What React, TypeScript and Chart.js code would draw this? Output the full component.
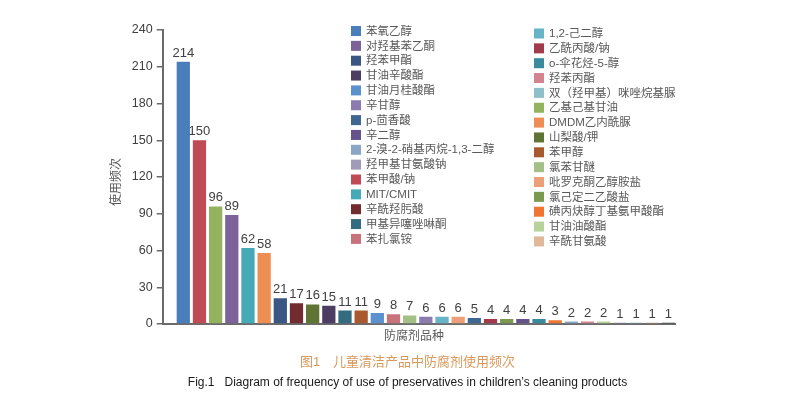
import React, { useEffect, useRef } from "react";
import { Chart, registerables } from "chart.js";

Chart.register(...registerables);

const categories = [
  "苯氧乙醇", "苯甲酸/钠", "乙基己基甘油", "对羟基苯乙酮", "MIT/CMIT", "DMDM乙内酰脲",
  "羟苯甲酯", "辛酰羟肟酸", "山梨酸/钾", "甘油辛酸酯", "甲基异噻唑啉酮", "苯甲醇",
  "甘油月桂酸酯", "苯扎氯铵", "氯苯甘醚", "辛甘醇", "1,2-己二醇", "吡罗克酮乙醇胺盐",
  "p-茴香酸", "乙酰丙酸/钠", "氯己定二乙酸盐", "辛二醇", "o-伞花烃-5-醇", "碘丙炔醇丁基氨甲酸酯",
  "2-溴-2-硝基丙烷-1,3-二醇", "羟苯丙酯", "甘油油酸酯", "羟甲基甘氨酸钠", "双（羟甲基）咪唑烷基脲",
  "辛酰甘氨酸", "其他",
];

const values = [214, 150, 96, 89, 62, 58, 21, 17, 16, 15, 11, 11, 9, 8, 7, 6, 6, 6, 5, 4, 4, 4, 4, 3, 2, 2, 2, 1, 1, 1, 1];

const barColors = [
  "#4A7EBB", "#BE4B55", "#94B35E", "#7D6199", "#46A9B8", "#EE8E55",
  "#3B5683", "#722B2E", "#5F7434", "#4E3D63", "#336C7E", "#A85A2E",
  "#5B92CE", "#C8727B", "#A3C087", "#8C7BAF", "#66B4C6", "#EBA07A",
  "#3E6892", "#A13A4A", "#7B9A50", "#66528A", "#3A8A9E", "#F07434",
  "#8CA7C6", "#D4848E", "#B8D39A", "#8E8AA6", "#7FA6B0", "#B89A86", "#2F3446",
];

const legendLeft = [
  "苯氧乙醇", "对羟基苯乙酮", "羟苯甲酯", "甘油辛酸酯", "甘油月桂酸酯", "辛甘醇", "p-茴香酸",
  "辛二醇", "2-溴-2-硝基丙烷-1,3-二醇", "羟甲基甘氨酸钠", "苯甲酸/钠", "MIT/CMIT",
  "辛酰羟肟酸", "甲基异噻唑啉酮", "苯扎氯铵",
];

const legendRight = [
  "1,2-己二醇", "乙酰丙酸/钠", "o-伞花烃-5-醇", "羟苯丙酯", "双（羟甲基）咪唑烷基脲",
  "乙基己基甘油", "DMDM乙内酰脲", "山梨酸/钾", "苯甲醇", "氯苯甘醚", "吡罗克酮乙醇胺盐",
  "氯己定二乙酸盐", "碘丙炔醇丁基氨甲酸酯", "甘油油酸酯", "辛酰甘氨酸",
];

const legendColors: Record<string, string> = {
  "羟甲基甘氨酸钠": "#A09CB8",
  "双（羟甲基）咪唑烷基脲": "#8FBFCB",
  "辛酰甘氨酸": "#E2B89B",
};

const yTicks = [0, 30, 60, 90, 120, 150, 180, 210, 240];

const xTitle = "防腐剂品种";
const yTitle = "使用频次";
const captionCn = "图1\u3000儿童清洁产品中防腐剂使用频次";
const captionEn = "Fig.1\u00a0\u00a0 Diagram of frequency of use of preservatives in children’s cleaning products";

const FONT = "'Liberation Sans', 'Noto Sans CJK SC', sans-serif";

function colorFor(name: string): string {
  if (legendColors[name]) return legendColors[name];
  const i = categories.indexOf(name);
  return i >= 0 ? barColors[i] : "#999";
}

const overlayPlugin = {
  id: "overlay",
  afterDatasetsDraw(chart: any) {
    const ctx = chart.ctx;
    const meta = chart.getDatasetMeta(0);
    ctx.save();
    // value labels
    ctx.font = `13px ${FONT}`;
    ctx.fillStyle = "#404040";
    ctx.textAlign = "center";
    ctx.textBaseline = "alphabetic";
    meta.data.forEach((el: any, i: number) => {
      ctx.fillText(String(values[i]), el.x, el.y - 5);
    });
    // legend
    ctx.font = `11.5px ${FONT}`;
    ctx.textAlign = "left";
    ctx.textBaseline = "middle";
    const step = 14.85;
    legendLeft.forEach((name, i) => {
      const cy = 31 + i * step;
      ctx.fillStyle = colorFor(name);
      ctx.fillRect(351, cy - 5, 10, 10);
      ctx.fillStyle = "#595959";
      ctx.fillText(name, 366, cy + 0.5);
    });
    legendRight.forEach((name, i) => {
      const cy = 33.5 + i * step;
      ctx.fillStyle = colorFor(name);
      ctx.fillRect(534, cy - 5, 10, 10);
      ctx.fillStyle = "#595959";
      ctx.fillText(name, 549, cy + 0.5);
    });
    // axis titles
    ctx.fillStyle = "#595959";
    ctx.textAlign = "center";
    ctx.font = `12px ${FONT}`;
    ctx.fillText(xTitle, 414, 337);
    ctx.translate(117, 182);
    ctx.rotate(-Math.PI / 2);
    ctx.fillText(yTitle, 0, 0);
    ctx.restore();
  },
};

export default function App() {
  const ref = useRef<HTMLCanvasElement | null>(null);

  useEffect(() => {
    if (!ref.current) return;
    const chart = new Chart(ref.current, {
      type: "bar",
      data: {
        labels: categories,
        datasets: [
          {
            label: "使用频次",
            data: values.map((v, i) => ({ x: i, y: v })),
            backgroundColor: barColors,
            borderWidth: 0,
            barPercentage: 0.82,
            categoryPercentage: 1,
          },
        ],
      },
      options: {
        responsive: false,
        animation: false,
        devicePixelRatio: 1,
        layout: { padding: { left: 0, top: 30, right: 136, bottom: 85 } },
        plugins: {
          legend: { display: false },
          tooltip: { enabled: false },
          title: { display: false },
        },
        scales: {
          x: {
            type: "linear",
            offset: false,
            min: -1.274,
            max: 30.41,
            ticks: { display: false },
            grid: { display: false, offset: false },
            border: { display: true, color: "#6b6b6b", width: 2 },
            afterFit: (s: any) => {
              s.height = 0;
            },
          },
          y: {
            min: 0,
            max: 240,
            afterBuildTicks: (s: any) => {
              s.ticks = yTicks.map((v) => ({ value: v }));
            },
            ticks: {
              font: { size: 12.5, family: FONT },
              color: "#404040",
              padding: 4,
            },
            grid: {
              drawOnChartArea: false,
              drawTicks: true,
              tickLength: 6,
              color: "#6b6b6b",
              lineWidth: 1.5,
            },
            border: { display: true, color: "#6b6b6b", width: 2 },
            afterFit: (s: any) => {
              s.width = 162.7;
            },
          },
        },
      } as any,
      plugins: [overlayPlugin],
    });
    return () => chart.destroy();
  }, []);

  return (
    <div style={{ position: "absolute", left: 0, top: 0, width: 811, height: 409, background: "#fff" }}>
      <canvas ref={ref} width={811} height={409} style={{ width: 811, height: 409, display: "block" }} />
      <div
        style={{
          position: "absolute",
          left: 2,
          top: 354,
          width: 811,
          textAlign: "center",
          fontFamily: FONT,
          fontSize: 13,
          lineHeight: "16px",
          color: "#D9995B",
          whiteSpace: "pre",
        }}
      >
        {captionCn}
      </div>
      <div
        style={{
          position: "absolute",
          left: 2,
          top: 374,
          width: 811,
          textAlign: "center",
          fontFamily: FONT,
          fontSize: 12,
          lineHeight: "16px",
          color: "#1a1a1a",
          whiteSpace: "pre",
        }}
      >
        {captionEn}
      </div>
    </div>
  );
}
